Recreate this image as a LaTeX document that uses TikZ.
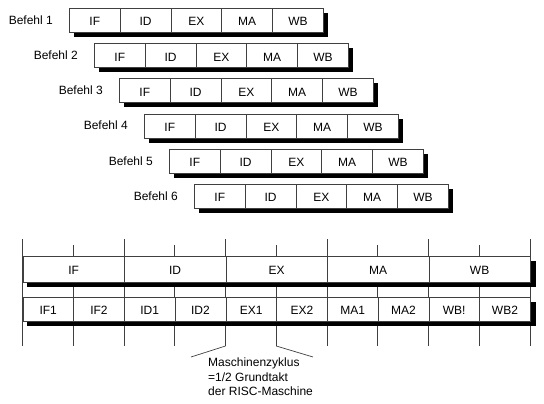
\documentclass[tikz,border=0pt]{standalone}
\usepackage{fontspec}
\setmainfont{Liberation Sans}
\tikzset{
  stage/.style={draw=black!75, fill=white, line width=0.7pt, anchor=north west,
    minimum width=50.8pt, minimum height=24pt, inner sep=0pt,
    text height=11pt, text depth=0pt, font=\fontsize{12}{14}\selectfont},
  rowlabel/.style={anchor=east, inner sep=0pt, font=\fontsize{12}{14}\selectfont},
  tick/.style={draw=black!75, line width=0.7pt},
  shade/.style={fill=black}
}
\begin{document}
\begin{tikzpicture}[x=1pt, y=-1pt]
  \useasboundingbox (0,0) rectangle (544,404);

  % Befehl rows, each shifted half a stage
  \foreach \i in {1,...,6} {
    \pgfmathsetmacro{\rx}{69+25*(\i-1)}
    \pgfmathsetmacro{\ry}{8+35.2*(\i-1)}
    \fill[shade] (\rx+4.5,\ry+5) rectangle ++(254,24);
    \node[rowlabel] (befehl\i) at (\rx-16,\ry+12) {Befehl \i};
    \foreach \s [count=\j from 0] in {IF,ID,EX,MA,WB}
      \node[stage] (c\i\s) at (\rx+50.8*\j,\ry) {\s};
  }

  % clock ticks behind the two bars
  \foreach \k in {0,2,...,10} {
    \coordinate (top\k) at (22.5+50.75*\k,239);
    \coordinate (foot\k) at (22.5+50.75*\k,346);
    \draw[tick] (top\k) -- (foot\k);
  }
  \foreach \k in {1,3,...,9} {
    \coordinate (top\k) at (22.5+50.75*\k,245);
    \coordinate (foot\k) at (22.5+50.75*\k,346);
    \draw[tick] (top\k) -- (foot\k);
  }

  % phase bar
  \fill[shade] (27,261) rectangle (535.5,287);
  \foreach \s [count=\j from 0] in {IF,ID,EX,MA,WB}
    \node[stage, minimum width=101.5pt, minimum height=26pt] (p\s) at (22.5+101.5*\j,256) {\s};

  % half phase bar
  \fill[shade] (27,302) rectangle (535.5,326);
  \foreach \s [count=\j from 0] in {IF1,IF2,ID1,ID2,EX1,EX2,MA1,MA2,WB!,WB2}
    \node[stage, minimum width=50.75pt] (h\j) at (22.5+50.75*\j,297) {\s};

  % Maschinenzyklus note
  \node[anchor=north west, inner sep=0pt, align=left,
        font=\fontsize{12}{14.5}\selectfont] (zyklus) at (208,358)
        {Maschinenzyklus\\=1/2 Grundtakt\\der RISC-Maschine};
  \coordinate (zl) at (191,357);
  \coordinate (zr) at (313,357);
  \draw[tick] (foot4) -- (zl);
  \draw[tick] (foot5) -- (zr);
\end{tikzpicture}
\end{document}
